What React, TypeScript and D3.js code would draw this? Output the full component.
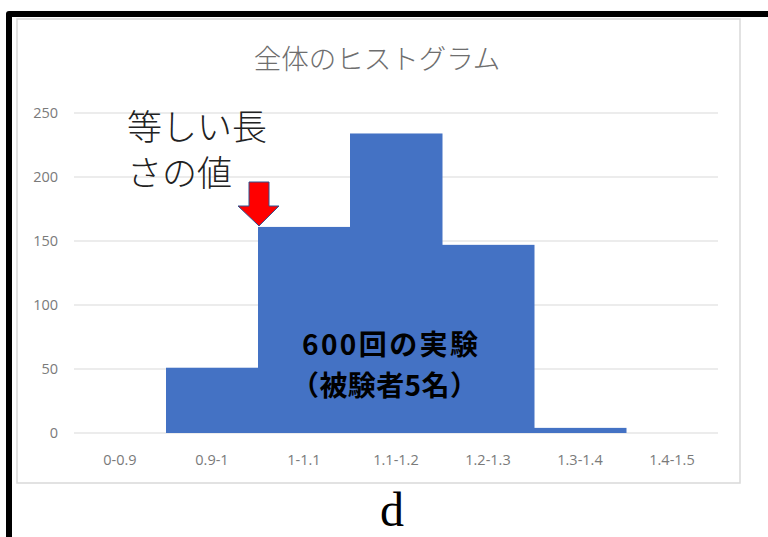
import React from "react";
import * as d3 from "d3";

const categories = ["0-0.9", "0.9-1", "1-1.1", "1.1-1.2", "1.2-1.3", "1.3-1.4", "1.4-1.5"];
const counts = [0, 51, 161, 234, 147, 4, 0];
const yTicks = [0, 50, 100, 150, 200, 250];
const title = "全体のヒストグラム";
const noteLines = ["等しい長", "さの値"];
const expLines = ["600回の実験", "（被験者5名）"];
const xTitle = "d";
const arrowCategory = "1-1.1";

const W = 768;
const H = 537;
const plot = { left: 74, right: 718, top: 113, bottom: 433 };

export default function App() {
  const x = d3.scaleBand<string>().domain(categories).range([plot.left, plot.right]).paddingInner(0).paddingOuter(0);
  const y = d3.scaleLinear().domain([0, 250]).range([plot.bottom, plot.top]);
  const cjk = "'Noto Sans CJK JP', 'Noto Sans', sans-serif";
  const tickFont = "'Open Sans', 'Noto Sans', sans-serif";
  const ax = (x(arrowCategory) as number) + 1;
  const aTop = 182;
  const aHeadTop = 206;
  const aTip = y(counts[categories.indexOf(arrowCategory)]) - 1;
  const arrowPath = `M${ax - 10},${aTop} L${ax + 10},${aTop} L${ax + 10},${aHeadTop} L${ax + 20},${aHeadTop} L${ax},${aTip} L${ax - 21},${aHeadTop} L${ax - 10},${aHeadTop} Z`;
  return (
    <svg width={W} height={H} style={{ position: "absolute", left: 0, top: 0, background: "#fff" }}>
      <rect x={0} y={0} width={W} height={H} fill="#fff" />
      <path d={`M9,545 L9,14 L775,14`} fill="none" stroke="#000" strokeWidth={6} strokeLinejoin="round" />
      <rect x={17} y={19} width={723} height={464} fill="#fff" stroke="#d9d9d9" strokeWidth={1.5} />
      <text x={377} y={69} textAnchor="middle" fontFamily={cjk} fontSize={27.5} fontWeight={300} fill="#6e6e6e">{title}</text>
      {yTicks.map((t) => (
        <g key={t}>
          <line x1={plot.left} x2={plot.right} y1={y(t)} y2={y(t)} stroke="#d9d9d9" strokeWidth={1.2} />
          <text x={58} y={y(t)} dy="0.35em" textAnchor="end" fontFamily={tickFont} fontSize={14.5} fill="#7a7a7a">{t}</text>
        </g>
      ))}
      {categories.map((c, i) => (
        <rect key={c} x={x(c)} y={y(counts[i])} width={x.bandwidth() + 0.5} height={plot.bottom - y(counts[i])} fill="#4472c4" />
      ))}
      {categories.map((c) => (
        <text key={c} x={(x(c) as number) + x.bandwidth() / 2} y={460} dy="0.35em" textAnchor="middle" fontFamily={tickFont} fontSize={14.5} fill="#7a7a7a">{c}</text>
      ))}
      <text fontFamily={cjk} fontSize={35} fontWeight={300} fill="#222">
        {noteLines.map((l, i) => (
          <tspan key={l} x={127} y={140 + i * 46}>{l}</tspan>
        ))}
      </text>
      <path d={arrowPath} fill="#ff0000" stroke="#2f528f" strokeWidth={1} />
      <text x={302} y={355} fontFamily={cjk} fontSize={28} fontWeight={700} letterSpacing={2.4} fill="#000">{expLines[0]}</text>
      <text x={291} y={396} fontFamily={cjk} fontSize={28} fontWeight={700} letterSpacing={0.4} fill="#000">{expLines[1]}</text>
      <text x={392} y={526} textAnchor="middle" fontFamily="'Liberation Serif', 'DejaVu Serif', serif" fontSize={48} fill="#000">{xTitle}</text>
    </svg>
  );
}
